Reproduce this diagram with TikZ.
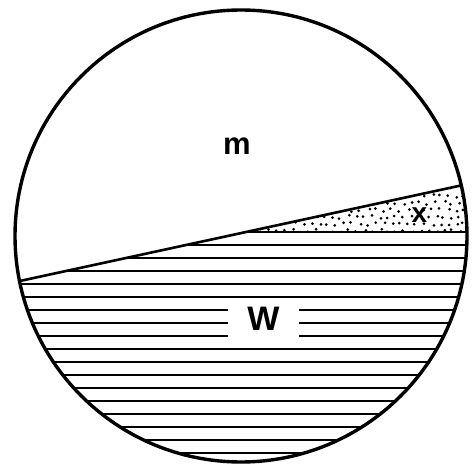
\documentclass[tikz,border=0pt]{standalone}
\usepackage{fontspec}
\setmainfont{Liberation Sans}
\begin{document}
\begin{tikzpicture}[x=1pt,y=-1pt,
  hatch/.style={line width=2.1pt},
  rim/.style={line width=3.4pt},
  sep/.style={line width=2.6pt},
  lab/.style={anchor=base,inner sep=0pt}]
\useasboundingbox (0,0) rectangle (476,470);
\coordinate (O) at (241,236);
\def\R{226}
\begin{scope}
  \clip (O) circle[radius=\R];
  % stippled wedge
  \begin{scope}
    \clip (250,231) -- (476,182.2) -- (476,231) -- cycle;
    \pgfmathsetseed{11}
    \foreach \i in {0,...,29}{
      \foreach \j in {0,...,7}{
        \pgfmathsetmacro\px{240+8*\i+4*mod(\j,2)+rand*2}
        \pgfmathsetmacro\py{182+7*\j+rand*1.8}
        \fill (\px,\py) circle[radius=1.5];
      }
    }
  \end{scope}
  % horizontal hatching below the sloping line
  \begin{scope}
    \clip (0,285.3) -- (476,182.2) -- (476,470) -- (0,470) -- cycle;
    \foreach \k in {0,...,17}{
      \pgfmathsetmacro\yy{232+13*\k}
      \draw[hatch] (0,\yy) -- (476,\yy);
    }
  \end{scope}
  % sloping boundary
  \draw[sep] (0,285.3) -- (476,182.2);
\end{scope}
% gap in the hatching for the label
\fill[white] (228,301) rectangle (299,342);
\draw[rim] (O) circle[radius=\R];
\node[lab,font=\bfseries\fontsize{31}{31}\selectfont] (m) at (237,155) {m};
\node[lab,font=\bfseries\fontsize{28}{28}\selectfont] (x) at (419.5,223) {x};
\node[lab,font=\bfseries\fontsize{34}{34}\selectfont] (w) at (263.5,330) {W};
\end{tikzpicture}
\end{document}
